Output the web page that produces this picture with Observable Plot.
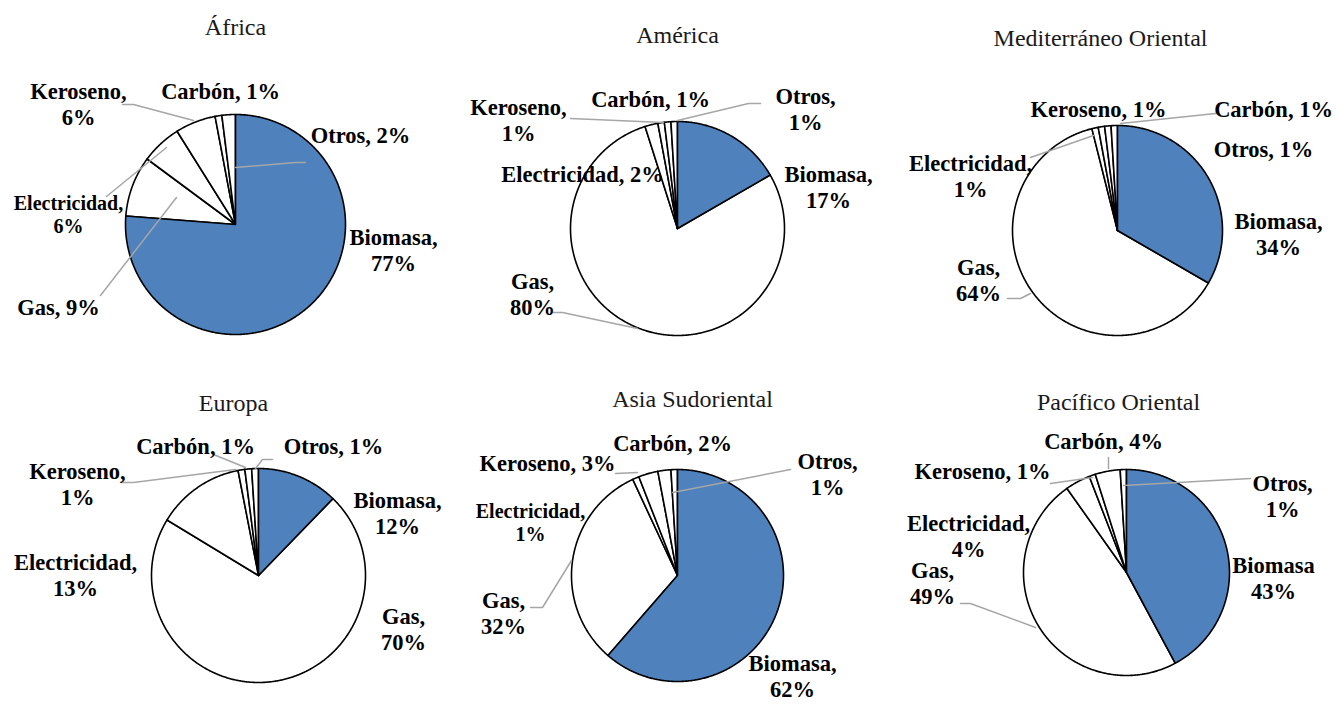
<!DOCTYPE html>
<html>
<head>
<meta charset="utf-8">
<script src="https://cdn.jsdelivr.net/npm/d3@7"></script>
<script src="https://cdn.jsdelivr.net/npm/@observablehq/plot@0.6"></script>
<style>
  html, body { margin: 0; padding: 0; background: #fff; }
  #chart { width: 1337px; height: 704px; }
  g[aria-label="titles"] text { letter-spacing: 0.7px; }
</style>
</head>
<body>
<div id="chart"></div>
<script>
// ---------- DATA ----------
const regions = ["África", "América", "Mediterráneo Oriental", "Europa", "Asia Sudoriental", "Pacífico Oriental"];
const categories = ["Biomasa", "Gas", "Electricidad", "Keroseno", "Carbón", "Otros"];
const africa        = [77,  9,  6, 6, 1, 2];
const america       = [17, 80,  2, 1, 1, 1];
const mediterraneo  = [34, 64,  1, 1, 1, 1];
const europa        = [12, 70, 13, 1, 1, 1];
const asiaSud       = [62, 32,  1, 3, 2, 1];
const pacifico      = [43, 49,  4, 1, 4, 1];
const seriesValues = [africa, america, mediterraneo, europa, asiaSud, pacifico];

// ---------- LAYOUT (positions / styles, not data) ----------
const pieLayout = [
  {cx: 235,  cy: 224, r: 110, tx: 235,  ty: 27},
  {cx: 677,  cy: 228, r: 107, tx: 677,  ty: 35},
  {cx: 1117, cy: 230, r: 105, tx: 1100, ty: 38},
  {cx: 258,  cy: 575, r: 107, tx: 233,  ty: 403},
  {cx: 677,  cy: 575, r: 106, tx: 692,  ty: 399},
  {cx: 1126, cy: 572, r: 103, tx: 1118, ty: 402}
];
// label block centers per region, in category order
const labelLayout = [
  [{x:393,y:249,wrap:true},{x:58,y:306,wrap:false},{x:68,y:214,wrap:true,small:true},{x:78,y:103,wrap:true},{x:220,y:90,wrap:false},{x:360,y:134,wrap:false}],
  [{x:828,y:186,wrap:true},{x:532,y:293,wrap:true},{x:582,y:173,wrap:false},{x:518,y:119,wrap:true},{x:650,y:98,wrap:false},{x:805,y:108,wrap:true}],
  [{x:1278,y:233,wrap:true},{x:978,y:279,wrap:true},{x:970,y:175,wrap:true},{x:1098,y:108,wrap:false},{x:1273,y:108,wrap:false},{x:1263,y:148,wrap:false}],
  [{x:397,y:512,wrap:true},{x:403,y:628,wrap:true},{x:75,y:574,wrap:true},{x:77,y:483,wrap:true},{x:195,y:445,wrap:false},{x:333,y:445,wrap:false}],
  [{x:792,y:675,wrap:true},{x:503,y:612,wrap:true},{x:530,y:522,wrap:true,small:true},{x:547,y:462,wrap:false},{x:672,y:442,wrap:false},{x:827,y:473,wrap:true}],
  [{x:1273,y:577,wrap:true,nocomma:true},{x:932,y:582,wrap:true},{x:968,y:535,wrap:true},{x:982,y:470,wrap:false},{x:1103,y:440,wrap:false},{x:1282,y:495,wrap:true}]
];
const leaderLayout = [
  [[[100,295],[176,197]], [[106,196],[166,147]], [[122,104],[133,104],[193,120]], [[305,162],[295,162],[235,167]]],
  [[[553,312],[562,312],[637,328]], [[570,118],[663,122]], [[760,103],[748,103],[677,120]]],
  [[[1007,298],[1020,298],[1030,293]], [[1030,157],[1093,135]], [[1215,113],[1120,123]]],
  [[[120,482],[133,482],[235,469]], [[213,454],[245,467]], [[272,459],[262,459],[255,468]]],
  [[[530,607],[542,607],[571,560]], [[615,473],[637,472]], [[790,469],[672,492]]],
  [[[960,603],[970,603],[1035,627]], [[1050,483],[1092,477]], [[1108,457],[1108,468]], [[1250,478],[1123,485]]]
];
const colors = {Biomasa: "#4F81BD"};
const W = 1337, H = 704;

// ---------- BUILD TABLES ----------
const pie = d3.pie().sort(null).value(d => d.value);
const slicePts = [];
const labels = [];
const titles = [];
const leaders = [];
regions.forEach((reg, ri) => {
  const L = pieLayout[ri];
  titles.push({text: reg, x: L.tx, y: L.ty});
  const rows = categories.map((c, ci) => ({cat: c, value: seriesValues[ri][ci]}));
  pie(rows).forEach(a => {
    const key = reg + "|" + a.data.cat;
    const steps = Math.max(2, Math.ceil((a.endAngle - a.startAngle) / (Math.PI / 360)));
    slicePts.push({key, cat: a.data.cat, x: L.cx, y: L.cy});
    for (let i = 0; i <= steps; i++) {
      const t = a.startAngle + (a.endAngle - a.startAngle) * i / steps;
      slicePts.push({key, cat: a.data.cat, x: L.cx + L.r * Math.sin(t), y: L.cy - L.r * Math.cos(t)});
    }
    slicePts.push({key, cat: a.data.cat, x: L.cx, y: L.cy});
  });
  categories.forEach((c, ci) => {
    const lb = labelLayout[ri][ci];
    const name = lb.nocomma ? c : c + ",";
    const pct = seriesValues[ri][ci] + "%";
    labels.push({x: lb.x, y: lb.y, small: !!lb.small, text: lb.wrap ? name + "\n" + pct : name + " " + pct});
  });
  leaderLayout[ri].forEach((pts, li) => {
    pts.forEach(p => leaders.push({key: reg + "|" + li, x: p[0], y: p[1]}));
  });
});

const chart = Plot.plot({
  width: W, height: H,
  margin: 0,
  x: {domain: [0, W], range: [0, W], axis: null},
  y: {domain: [0, H], range: [0, H], axis: null},
  style: {background: "#fff"},
  marks: [
    Plot.line(slicePts.filter(d => d.cat !== "Biomasa"), {x: "x", y: "y", z: "key", fill: "#ffffff", stroke: "#000", strokeWidth: 1.6, curve: "linear", strokeLinejoin: "round"}),
    Plot.line(slicePts.filter(d => d.cat === "Biomasa"), {x: "x", y: "y", z: "key", fill: colors.Biomasa, stroke: "#000", strokeWidth: 1.6, curve: "linear", strokeLinejoin: "round"}),
    Plot.line(leaders, {x: "x", y: "y", z: "key", stroke: "#A6A6A6", strokeWidth: 1.5}),
    Plot.text(titles, {x: "x", y: "y", text: "text", fontFamily: "Liberation Serif", fontSize: 24, fill: "#1a1a1a", ariaLabel: "titles"}),
    Plot.text(labels.filter(d => !d.small), {x: "x", y: "y", text: "text", fontFamily: "Liberation Serif", fontWeight: "bold", fontSize: 22.5, lineHeight: 1.16, fill: "#000"}),
    Plot.text(labels.filter(d => d.small), {x: "x", y: "y", text: "text", fontFamily: "Liberation Serif", fontWeight: "bold", fontSize: 20, lineHeight: 1.15, fill: "#000"})
  ]
});
document.getElementById("chart").appendChild(chart);
</script>
</body>
</html>
